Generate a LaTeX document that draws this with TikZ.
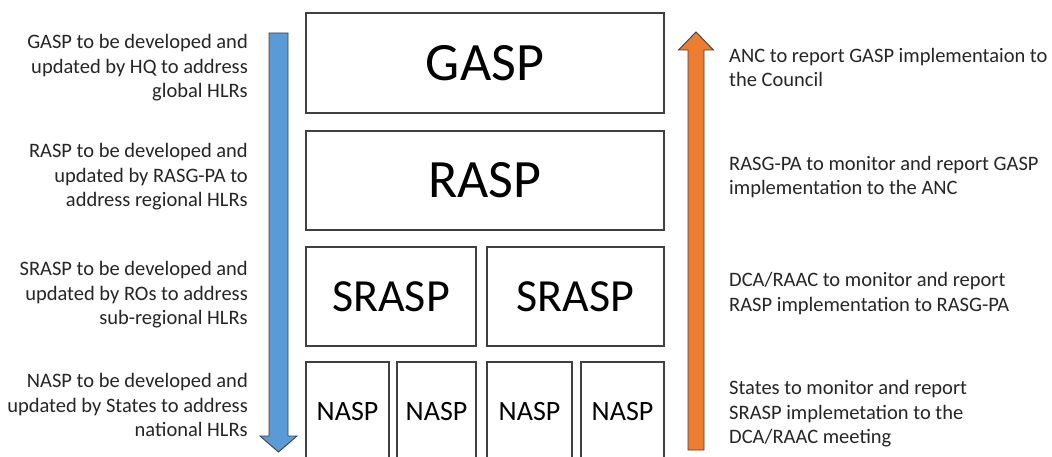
\documentclass[tikz,border=0pt]{standalone}
\usepackage{fontspec}
\setmainfont{Carlito}
\usetikzlibrary{positioning}

\definecolor{planblue}{HTML}{5B9BD5}
\definecolor{planorange}{HTML}{ED7D31}
\definecolor{edgegray}{HTML}{404040}
\definecolor{textgray}{HTML}{262626}

\begin{document}
\begin{tikzpicture}[x=1pt,y=-1pt,
  plan box/.style={draw=edgegray,line width=1.3pt,inner sep=0pt,minimum height=100pt,text=black},
  big label/.style={font=\fontsize{54}{64}\selectfont},
  mid label/.style={font=\fontsize{46}{55}\selectfont},
  small label/.style={font=\fontsize{28}{34}\selectfont},
  note/.style={inner sep=0pt,text=textgray,font=\fontsize{20.5}{24.5}\selectfont},
  block arrow/.style={draw=edgegray,line width=0.9pt,line join=miter}]
  \clip (0,0) rectangle (1052,457);
  \fill[white] (0,0) rectangle (1052,457);

  % plan hierarchy
  \node[plan box,big label,minimum width=358pt] (gasp) at (485,63) {GASP};
  \node[plan box,big label,minimum width=358pt,minimum height=99pt] (rasp) at (485,180.5) {RASP};
  \node[plan box,mid label,minimum width=170pt,minimum height=99pt] (srasp1) at (391,296.5) {SRASP};
  \node[plan box,mid label,minimum width=177pt,minimum height=99pt] (srasp2) at (575.5,296.5) {SRASP};
  \node[plan box,small label,minimum width=83pt] (nasp1) at (347.5,412) {NASP};
  \node[plan box,small label,minimum width=79pt] (nasp2) at (436.5,412) {NASP};
  \node[plan box,small label,minimum width=85pt] (nasp3) at (529.5,412) {NASP};
  \node[plan box,small label,minimum width=83pt] (nasp4) at (622.5,412) {NASP};

  % development (left)
  \node[note,align=right,anchor=east] (dev1) at (248,68) {GASP to be developed and\\updated by HQ to address\\global HLRs};
  \node[note,align=right,anchor=east] (dev2) at (248,177) {RASP to be developed and\\updated by RASG-PA to\\address regional HLRs};
  \node[note,align=right,anchor=east] (dev3) at (248,295) {SRASP to be developed and\\updated by ROs to address\\sub-regional HLRs};
  \node[note,align=right,anchor=east] (dev4) at (248,405) {NASP to be developed and\\updated by States to address\\national HLRs};

  % reporting (right)
  \node[note,align=left,anchor=west] (rep1) at (729,67.5) {ANC to report GASP implementaion to\\the Council};
  \node[note,align=left,anchor=west] (rep2) at (729,177) {RASG-PA to monitor and report GASP\\implementation to the ANC};
  \node[note,align=left,anchor=west] (rep3) at (729,293.5) {DCA/RAAC to monitor and report\\RASP implementation to RASG-PA};
  \node[note,align=left,anchor=west] (rep4) at (729,414) {States to monitor and report\\SRASP implemetation to the\\DCA/RAAC meeting};

  % block arrows
  \coordinate (dtop) at (278.5,33);
  \coordinate (dtip) at (278.5,452);
  \coordinate (utip) at (696,32);
  \coordinate (ubot) at (696,450);
  \draw[block arrow,fill=planblue] ([xshift=-9.5pt]dtop) -- ([xshift=9.5pt]dtop)
    -- ([xshift=9.5pt,yshift=16pt]dtip) -- ([xshift=18.5pt,yshift=16pt]dtip) -- (dtip)
    -- ([xshift=-18.5pt,yshift=16pt]dtip) -- ([xshift=-9.5pt,yshift=16pt]dtip) -- cycle;
  \draw[block arrow,fill=planorange] ([xshift=-8pt]ubot) -- ([xshift=8pt]ubot)
    -- ([xshift=8pt,yshift=-18pt]utip) -- ([xshift=17.5pt,yshift=-18pt]utip) -- (utip)
    -- ([xshift=-17.5pt,yshift=-18pt]utip) -- ([xshift=-8pt,yshift=-18pt]utip) -- cycle;
\end{tikzpicture}
\end{document}
